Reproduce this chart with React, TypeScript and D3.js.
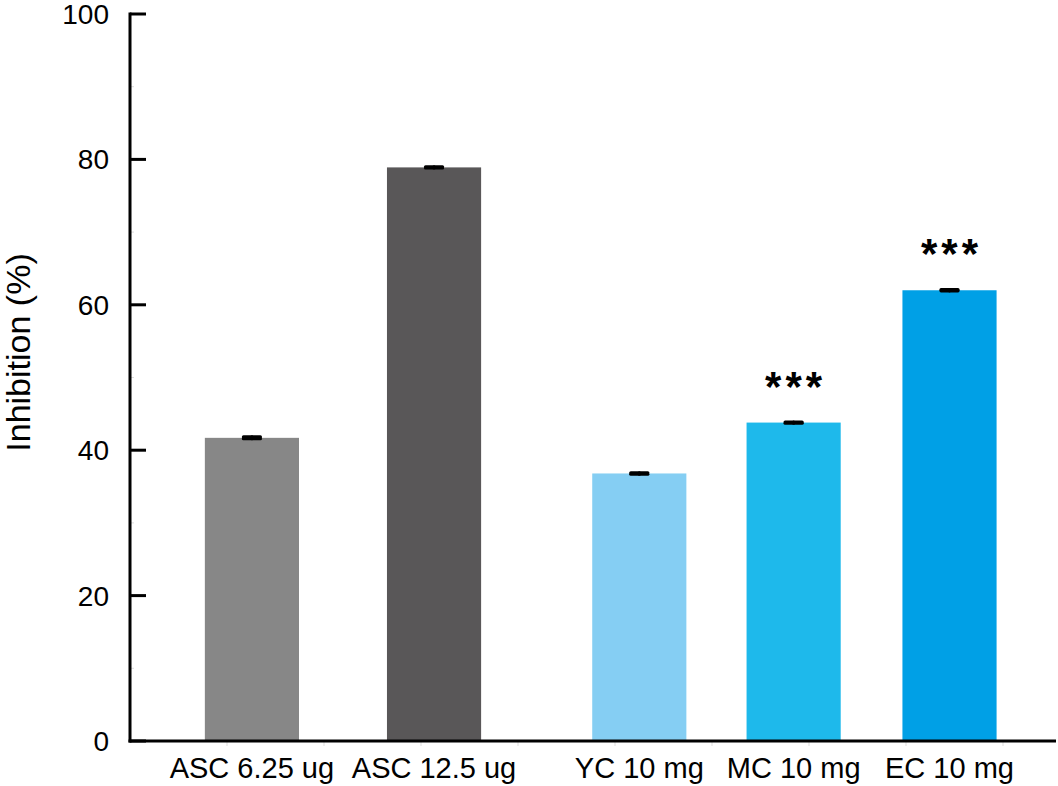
import React from "react";
import * as d3 from "d3";

const categories = ["ASC 6.25 ug", "ASC 12.5 ug", "YC 10 mg", "MC 10 mg", "EC 10 mg"];
const values = [41.7, 78.9, 36.8, 43.8, 62.0];
const errors = [0.12, 0.08, 0.1, 0.08, 0.08];
const slots = [0.79, 1.97, 3.3, 4.3, 5.31];
const significance = ["", "", "", "***", "***"];
const colors = ["#878787", "#595758", "#85CEF3", "#1EB9EB", "#00A0E6"];
const yTicks = [0, 20, 40, 60, 80, 100];
const yMinorTicks = [10, 30, 50, 70, 90];

const W = 1058;
const H = 786;
const FONT = "'Liberation Sans', Arial, Helvetica, sans-serif";

export default function App() {
  const x = d3.scaleLinear().domain([0, 6]).range([130, 1056]);
  const y = d3.scaleLinear().domain([0, 100]).range([741, 14]);
  const barW = x(0.61) - x(0);
  const capW = 17;
  const xMinor = d3.range(1, 10).map((k) => 130 + 97 * k).filter((v) => v < 1050);

  return (
    <svg
      width={W}
      height={H}
      style={{ position: "absolute", left: 0, top: 0, background: "#fff" }}
      fontFamily={FONT}
    >
      {categories.map((c, i) => (
        <rect
          key={c}
          x={x(slots[i]) - barW / 2}
          y={y(values[i])}
          width={barW}
          height={y(0) - y(values[i])}
          fill={colors[i]}
        />
      ))}
      {categories.map((c, i) => {
        const cx = x(slots[i]);
        const lo = y(values[i] - errors[i]);
        const hi = y(values[i] + errors[i]);
        return (
          <g key={"e" + c} stroke="#000" strokeWidth={3.2} strokeLinecap="round">
            <line x1={cx} x2={cx} y1={lo} y2={hi} />
            <line x1={cx - capW / 2} x2={cx + capW / 2} y1={hi} y2={hi} />
            <line x1={cx - capW / 2} x2={cx + capW / 2} y1={lo} y2={lo} />
          </g>
        );
      })}
      {categories.map((c, i) =>
        significance[i] ? (
          <text
            key={"s" + c}
            x={x(slots[i]) + 2}
            y={y(values[i]) - 22}
            textAnchor="middle"
            fontSize={42}
            fontWeight="bold"
            letterSpacing={4}
            fill="#000"
          >
            {significance[i]}
          </text>
        ) : null
      )}
      {yMinorTicks.map((t) => (
        <line key={"ym" + t} x1={130} x2={134} y1={y(t)} y2={y(t)} stroke="#ddd" strokeWidth={1} />
      ))}
      {xMinor.map((t) => (
        <line key={"xm" + t} x1={t} x2={t} y1={741} y2={746} stroke="#ddd" strokeWidth={1} />
      ))}
      <line x1={130} x2={130} y1={y(100) - 1.5} y2={y(0) + 1.5} stroke="#000" strokeWidth={3} />
      <line x1={128.5} x2={1056} y1={y(0)} y2={y(0)} stroke="#000" strokeWidth={3} />
      {yTicks.map((t) => (
        <g key={"yt" + t}>
          <line x1={130} x2={146} y1={y(t)} y2={y(t)} stroke="#000" strokeWidth={3} />
          <text x={109} y={y(t)} dy="0.36em" textAnchor="end" fontSize={28} fill="#000">
            {t}
          </text>
        </g>
      ))}
      {categories.map((c, i) => (
        <text key={"xl" + c} x={x(slots[i])} y={778} textAnchor="middle" fontSize={29} fill="#000">
          {c}
        </text>
      ))}
      <text
        transform={`translate(30, ${(255 + 450) / 2}) rotate(-90)`}
        textAnchor="middle"
        fontSize={34}
        fill="#000"
      >
        Inhibition (%)
      </text>
    </svg>
  );
}
